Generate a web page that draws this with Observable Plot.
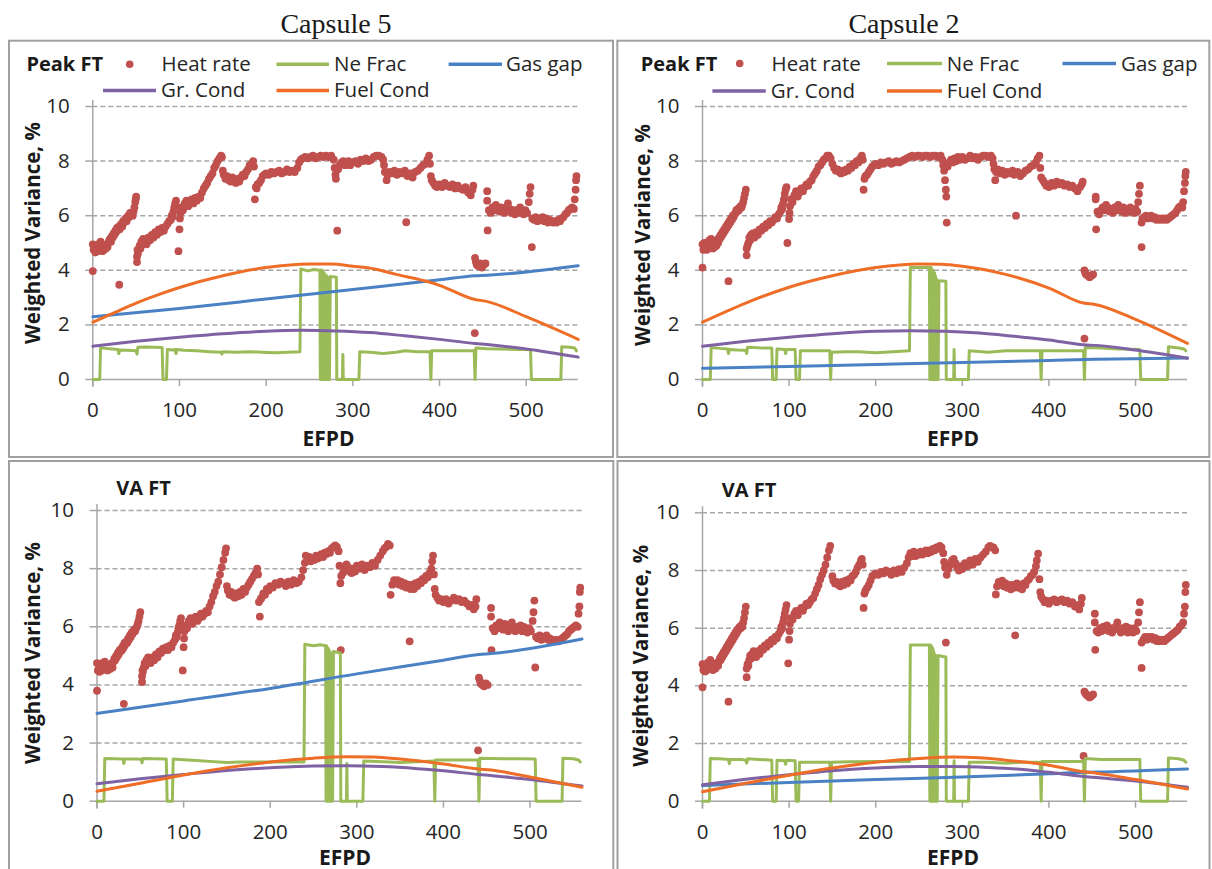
<!DOCTYPE html>
<html><head><meta charset="utf-8">
<script src="https://cdn.jsdelivr.net/npm/d3@7"></script>
<script src="https://cdn.jsdelivr.net/npm/@observablehq/plot@0.6"></script>
<style>
body{margin:0;background:#fff;}
#page{position:relative;width:1212px;height:869px;overflow:hidden;background:#fff;}
.panel{position:absolute;}
#overlay{position:absolute;left:0;top:0;pointer-events:none;}
</style></head><body><div id="page"></div>
<script>
// ---------------- DATA ----------------
const efpdTicks = [0,100,200,300,400,500];
const varianceTicks = [0,2,4,6,8,10];
const capsuleTitles = ["Capsule 5","Capsule 2"];
const panelLabels = ["Peak FT","Peak FT","VA FT","VA FT"];
const seriesNames = ["Heat rate","Ne Frac","Gas gap","Gr. Cond","Fuel Cond"];
const xTitle = "EFPD";
const yTitle = "Weighted Variance, %";

// Capsule 5, Peak FT
const c5PeakHeat = [[0,3.97],[0,4.95],[1,4.75],[2,4.9],[3,4.65],[4,4.8],[5,4.7],[6,4.95],[7,4.75],[8,4.85],[9,5.05],[10,4.8],[11,4.7],[12,4.85],[13,4.75],[14,4.9],[15,4.8],[16,4.95],[17,4.85],[18,5.0],[19,5.1],[20,5.15],[21,5.05],[22,5.25],[23,5.2],[24,5.35],[25,5.3],[26,5.45],[27,5.4],[28,5.55],[29,5.5],[30.5,3.47],[30,5.6],[31,5.5],[32,5.65],[33,5.7],[34,5.6],[35,5.8],[36,5.75],[37,5.85],[38,5.9],[39,5.8],[40,5.95],[41,6.0],[42,5.95],[43,6.1],[44,6.05],[45,6.1],[46,6.0],[47,6.15],[48,6.3],[49,6.5],[49.5,6.6],[50,6.7],[51,4.3],[51,4.5],[51.5,4.75],[52,4.6],[53,4.75],[54,4.9],[55,4.8],[56,5.05],[57,4.95],[58,5.15],[59,5.0],[60,5.1],[62,4.95],[64,5.2],[66,5.1],[68,5.3],[70,5.2],[72,5.4],[74,5.3],[76,5.5],[78,5.4],[80,5.55],[82,5.45],[84,5.6],[86,5.7],[88,5.8],[90,5.85],[91,6.0],[92,5.95],[93,6.15],[94,6.3],[95,6.45],[96,6.55],[98.8,4.7],[100,5.5],[100.5,5.9],[101,6.1],[102,6.3],[104,6.2],[106,6.45],[108,6.55],[110,6.35],[112,6.5],[114,6.6],[116,6.45],[118,6.65],[120,6.55],[122,6.7],[124,6.65],[126,6.85],[128,7.0],[130,7.1],[132,7.2],[134,7.35],[136,7.45],[138,7.55],[140,7.75],[142,7.85],[144,8.0],[146,8.1],[148,8.2],[149,8.15],[150,7.65],[151,7.5],[153,7.35],[155,7.45],[157,7.3],[159,7.25],[161,7.4],[163,7.3],[165,7.2],[167,7.35],[169,7.25],[171,7.4],[173,7.5],[175,7.45],[177,7.6],[179,7.7],[181,7.85],[183,7.9],[185,8.0],[186,7.8],[187,6.6],[188,7.05],[189,7.0],[190,7.15],[192,7.2],[194,7.3],[196,7.45],[198,7.5],[200,7.55],[203,7.5],[206,7.6],[209,7.55],[212,7.6],[215,7.65],[218,7.55],[221,7.6],[224,7.7],[227,7.6],[230,7.65],[233,7.6],[236,7.75],[238,7.95],[240,8.05],[242,8.1],[245,8.15],[248,8.1],[251,8.15],[254,8.2],[257,8.1],[260,8.15],[263,8.2],[266,8.15],[269,8.2],[272,8.15],[275,8.2],[278,8.05],[279,7.75],[280,7.5],[280.5,7.35],[282,5.45],[283,7.7],[285,7.85],[287,7.95],[289,8.0],[291,7.85],[293,7.9],[295,8.0],[297,7.85],[300,7.95],[303,8.0],[306,7.9],[309,8.05],[312,8.0],[315,8.1],[318,8.0],[321,8.05],[324,8.15],[327,8.2],[330,8.2],[333,8.15],[335,8.05],[336,7.85],[337,7.6],[339,7.3],[340,7.5],[342,7.6],[345,7.55],[348,7.65],[351,7.5],[354,7.6],[357,7.55],[360,7.65],[361.6,5.76],[363,7.45],[366,7.55],[369,7.4],[372,7.6],[375,7.65],[378,7.75],[381,7.85],[384,7.9],[386,8.05],[388,8.2],[389,7.9],[390,7.45],[391,7.3],[393,7.2],[395,7.1],[397,7.05],[400,7.15],[403,7.05],[406,7.2],[409,7.1],[412,7.05],[415,7.15],[418,7.0],[421,7.1],[424,7.0],[427,6.95],[430,7.05],[433,6.85],[436,6.75],[438,6.95],[439,7.1],[440.7,1.7],[441,4.45],[442,4.3],[443,4.2],[445,4.15],[447,4.25],[449,4.1],[451,4.2],[453,4.25],[455,6.9],[455,6.55],[455.5,5.46],[457,6.2],[459,6.1],[461,6.3],[463,6.2],[465,6.4],[467,6.25],[469,6.15],[471,6.3],[473,6.2],[475,6.1],[477,6.3],[479,6.45],[481,6.25],[483,6.1],[485,6.2],[487,6.05],[489,6.2],[491,6.1],[493,6.3],[495,6.15],[497,6.05],[499,6.2],[501,6.1],[503,6.5],[504,6.8],[505,7.05],[506.5,4.85],[507,5.9],[509,5.85],[511,5.95],[513,5.8],[515,5.9],[517,5.85],[519,5.95],[521,5.8],[523,5.9],[525,5.75],[527,5.85],[529,5.8],[531,5.75],[533,5.8],[535,5.75],[537,5.85],[539,5.8],[541,5.9],[543,5.95],[545,6.05],[547,6.1],[549,6.2],[551,6.25],[553,6.3],[555,6.25],[556,6.6],[557,6.95],[557.5,7.3],[558,7.45]];
const c5PeakNe = [[0,0],[8,0],[9,1.16],[15,1.14],[22,1.12],[29,1.1],[30,0.95],[31,1.08],[40,1.07],[50,1.05],[51,0.93],[52,1.18],[60,1.19],[70,1.18],[80,1.17],[81,0],[85,0],[86,1.1],[92,1.08],[95,1.1],[96,0.95],[97,1.1],[105,1.07],[120,1.05],[135,1.02],[148,1.0],[149,0.93],[150,1.02],[165,1.0],[180,1.02],[195,1.0],[210,0.98],[225,1.0],[239,1.02],[240,4.05],[248,3.98],[255,4.03],[262,4.0],[262.5,0],[263,4.0],[263.5,0],[264,4.0],[264.5,0],[265,4.0],[265.5,0],[266,3.95],[266.5,0],[267,3.9],[267.5,0],[268,3.85],[268.5,0],[269,3.8],[269.5,0],[270,3.8],[270.5,0],[271,3.75],[271.5,0],[273,0],[274,3.77],[281,3.75],[281.5,0],[288,0],[288.5,0.92],[289,0],[307,0],[308,1.02],[320,1.0],[335,0.95],[350,1.0],[360,1.05],[375,1.02],[389,1.02],[390,0],[391,1.05],[410,1.05],[425,1.05],[440,1.05],[441,0],[442,1.15],[455,1.13],[470,1.12],[490,1.1],[505,1.1],[506,0],[540,0],[541,1.2],[550,1.18],[556,1.15],[558,1.05]];
const c5PeakGas = [[0,2.3],[100,2.6],[200,2.95],[300,3.3],[400,3.65],[441,3.8],[455,3.82],[560,4.17]];
const c5PeakGr = [[0,1.22],[50,1.4],[100,1.55],[150,1.68],[200,1.77],[240,1.8],[280,1.78],[320,1.72],[360,1.6],[400,1.47],[441,1.32],[455,1.28],[500,1.12],[560,0.82]];
const c5PeakFuel = [[0,2.1],[25,2.45],[50,2.8],[75,3.1],[100,3.37],[150,3.8],[200,4.1],[250,4.23],[275,4.23],[300,4.15],[325,4.05],[350,3.85],[388,3.57],[400,3.45],[441,2.93],[453,2.87],[500,2.3],[560,1.47]];

// Capsule 2, Peak FT
const c2PeakHeat = [[0,4.1],[0,4.95],[1,4.75],[2,5.0],[3,4.8],[4,4.9],[5,4.75],[6,5.0],[7,4.85],[8,5.1],[9,4.9],[10,5.15],[11,4.95],[12,4.8],[13,4.95],[14,4.85],[15,5.0],[16,4.9],[17,5.1],[18,5.0],[19,5.2],[20,5.15],[21,5.3],[22,5.25],[23,5.4],[24,5.35],[25,5.5],[26,5.45],[27,5.6],[28,5.55],[29,5.7],[30,3.6],[30,5.65],[31,5.8],[32,5.75],[33,5.9],[34,5.85],[35,6.0],[36,5.95],[37,6.05],[38,6.1],[39,6.2],[40,6.15],[41,6.25],[42,6.2],[43,6.3],[44,6.35],[45,6.3],[46,6.4],[47,6.5],[48,6.65],[49,6.8],[50,6.95],[51,4.55],[51,4.8],[52,4.9],[53,5.0],[54,5.2],[55,5.1],[56,5.3],[57,5.25],[58,5.35],[60,5.2],[62,5.4],[64,5.3],[66,5.5],[68,5.45],[70,5.6],[72,5.55],[74,5.7],[76,5.65],[78,5.8],[80,5.75],[82,5.85],[84,5.95],[86,5.9],[88,6.05],[90,6.15],[91,6.3],[92,6.25],[93,6.45],[94,6.6],[95,6.8],[96,6.95],[97,7.05],[98,5.0],[100,5.88],[100.5,6.1],[101,6.35],[102,6.6],[104,6.5],[106,6.75],[108,6.9],[110,6.7],[112,6.85],[114,7.0],[116,6.9],[118,7.05],[120,7.15],[122,7.1],[124,7.25],[126,7.3],[128,7.45],[130,7.55],[132,7.65],[134,7.8],[136,7.85],[138,7.95],[140,8.05],[142,8.1],[144,8.2],[146,8.2],[148,8.1],[150,7.9],[152,7.75],[154,7.65],[156,7.7],[158,7.6],[160,7.55],[162,7.65],[164,7.6],[166,7.7],[168,7.65],[170,7.8],[172,7.75],[174,7.9],[176,7.85],[178,8.0],[180,7.95],[182,8.1],[184,8.2],[185,8.05],[186,6.95],[187,7.35],[188,7.45],[190,7.5],[192,7.6],[194,7.7],[196,7.8],[198,7.85],[200,7.9],[203,7.85],[206,7.95],[209,7.9],[212,7.95],[215,8.0],[218,7.9],[221,7.95],[224,8.0],[227,7.95],[230,8.0],[233,8.05],[236,8.1],[239,8.15],[242,8.2],[245,8.15],[248,8.2],[251,8.2],[254,8.15],[257,8.2],[260,8.2],[263,8.15],[266,8.2],[269,8.2],[272,8.15],[275,8.2],[277,8.05],[278,7.85],[279,7.65],[280,7.3],[281,6.95],[281.5,6.7],[282,5.75],[283,7.8],[285,7.95],[287,8.05],[289,7.95],[291,8.1],[293,8.0],[295,8.15],[297,8.05],[300,8.15],[303,8.05],[306,8.1],[309,8.2],[312,8.1],[315,8.15],[318,8.05],[321,8.15],[324,8.2],[327,8.2],[330,8.15],[333,8.2],[335,8.1],[336,7.9],[337,7.7],[338,7.3],[339,7.6],[341,7.7],[343,7.55],[346,7.65],[349,7.5],[352,7.6],[355,7.55],[358,7.65],[360,7.5],[362,6.0],[364,7.6],[367,7.45],[370,7.55],[373,7.65],[376,7.7],[379,7.8],[382,7.85],[385,7.95],[387,8.1],[389,8.2],[390,7.75],[391,7.4],[393,7.3],[395,7.2],[397,7.1],[400,7.05],[403,7.2],[406,7.1],[409,7.25],[412,7.15],[415,7.2],[418,7.1],[421,7.15],[424,7.05],[427,7.1],[430,7.0],[433,6.9],[436,7.05],[438,7.15],[439,7.25],[441,1.5],[441,4.0],[442,3.9],[443,3.85],[445,3.8],[447,3.75],[449,3.8],[451,3.85],[454,6.7],[454,6.6],[454.5,5.5],[456,6.15],[458,6.05],[460,6.2],[462,6.3],[464,6.2],[466,6.4],[468,6.3],[470,6.15],[472,6.25],[474,6.1],[476,6.3],[478,6.2],[480,6.4],[482,6.25],[484,6.15],[486,6.3],[488,6.1],[490,6.2],[492,6.15],[494,6.3],[496,6.2],[498,6.1],[500,6.25],[502,6.15],[503,6.5],[504,6.8],[505,7.1],[507,4.85],[507,5.75],[508,5.9],[510,5.95],[512,6.0],[514,5.9],[516,5.95],[518,6.0],[520,5.9],[522,5.95],[524,5.85],[526,5.9],[528,5.85],[530,5.9],[532,5.85],[534,5.9],[536,5.85],[538,5.9],[540,5.95],[542,6.0],[544,6.05],[546,6.1],[548,6.2],[550,6.3],[552,6.35],[554,6.3],[555,6.5],[556,6.9],[557,7.2],[557.5,7.45],[558,7.6]];
const c2PeakNe = [[0,0],[9,0],[10,1.17],[20,1.14],[29,1.12],[30,0.95],[31,1.1],[40,1.08],[50,1.07],[51,0.95],[52,1.18],[65,1.16],[80,1.15],[81,0],[85,0],[86,1.12],[95,1.1],[96,0.95],[97,1.1],[107,1.1],[108,0],[112,0],[113,1.05],[130,1.05],[147,1.05],[148,0],[149,1.0],[165,1.02],[180,1.02],[200,0.98],[220,1.02],[239,1.05],[240,4.1],[250,4.1],[262,4.1],[262.5,0],[263,4.1],[263.5,0],[264,4.1],[264.5,0],[265,4.05],[265.5,0],[266,4.0],[266.5,0],[267,3.95],[267.5,0],[268,3.9],[268.5,0],[269,3.8],[269.5,0],[270,3.7],[270.5,0],[272,0],[273,3.62],[281,3.6],[281.5,0],[290,0],[290.5,1.1],[291,0],[307,0],[308,1.05],[330,1.0],[350,1.05],[370,1.05],[390,1.05],[391,0],[392,1.05],[420,1.05],[440,1.05],[441,0],[442,1.17],[460,1.15],[480,1.12],[505,1.1],[506,0],[537,0],[538,1.2],[550,1.15],[556,1.12],[558,1.05]];
const c2PeakGas = [[0,0.41],[100,0.48],[200,0.55],[300,0.62],[400,0.7],[441,0.73],[455,0.74],[560,0.79]];
const c2PeakGr = [[0,1.22],[50,1.4],[100,1.55],[150,1.68],[200,1.77],[240,1.79],[280,1.77],[320,1.7],[360,1.58],[400,1.45],[440,1.27],[455,1.25],[500,1.08],[560,0.78]];
const c2PeakFuel = [[0,2.1],[50,2.8],[100,3.38],[150,3.8],[200,4.1],[250,4.23],[275,4.22],[300,4.15],[350,3.85],[400,3.35],[440,2.8],[453,2.75],[500,2.2],[560,1.32]];

// Capsule 5, VA FT
const c5VaHeat = [[0,3.8],[0,4.75],[1,4.5],[2,4.7],[3,4.45],[4,4.6],[5,4.5],[6,4.75],[7,4.55],[8,4.7],[9,4.8],[10,4.55],[11,4.65],[12,4.5],[13,4.6],[14,4.7],[15,4.55],[16,4.65],[17,4.75],[18,4.6],[19,4.8],[20,4.9],[21,4.85],[22,5.0],[23,4.95],[24,5.1],[25,5.05],[26,5.2],[27,5.15],[28,5.25],[29,5.2],[30,5.35],[31,3.35],[31,5.3],[32,5.45],[33,5.4],[34,5.5],[35,5.45],[36,5.6],[37,5.55],[38,5.7],[39,5.65],[40,5.8],[41,5.75],[42,5.85],[43,5.9],[44,5.85],[45,5.95],[46,6.0],[47,6.1],[48,6.2],[49,6.35],[50,6.5],[52,4.1],[52,4.3],[52.5,4.5],[53,4.45],[54,4.6],[55,4.75],[56,4.65],[57,4.85],[58,4.8],[59,4.95],[60,4.9],[62,4.75],[64,4.95],[66,4.85],[68,5.05],[70,4.95],[72,5.15],[74,5.1],[76,5.25],[78,5.2],[80,5.3],[82,5.2],[84,5.35],[86,5.3],[88,5.45],[90,5.55],[91,5.7],[92,5.65],[93,5.8],[94,5.95],[95,6.05],[96,6.2],[97,6.3],[99,4.5],[100,5.3],[100.5,5.6],[101,5.85],[102,6.05],[104,5.95],[106,6.2],[108,6.3],[110,6.1],[112,6.25],[114,6.35],[116,6.2],[118,6.3],[120,6.45],[122,6.35],[124,6.45],[126,6.55],[128,6.5],[130,6.7],[132,6.85],[134,7.05],[136,7.2],[138,7.4],[140,7.55],[142,7.8],[144,8.05],[146,8.3],[148,8.55],[149,8.7],[150,7.4],[151,7.25],[153,7.1],[155,7.2],[157,7.05],[159,7.0],[161,7.15],[163,7.05],[165,7.2],[167,7.1],[169,7.3],[171,7.2],[173,7.35],[175,7.45],[177,7.55],[179,7.65],[181,7.75],[183,7.85],[185,8.0],[186,7.8],[187,6.85],[188,6.35],[189,6.95],[190,7.0],[192,7.15],[194,7.1],[196,7.3],[198,7.25],[200,7.4],[203,7.35],[206,7.5],[209,7.45],[212,7.55],[215,7.5],[218,7.4],[221,7.55],[224,7.45],[227,7.6],[230,7.5],[233,7.55],[236,7.7],[238,7.95],[240,8.2],[241,8.45],[243,8.3],[245,8.4],[247,8.25],[249,8.35],[251,8.3],[253,8.45],[255,8.35],[257,8.4],[259,8.5],[261,8.4],[263,8.55],[265,8.5],[267,8.6],[269,8.55],[271,8.7],[273,8.75],[275,8.8],[277,8.75],[279,8.6],[280,8.1],[281,7.5],[281.5,5.2],[282,7.75],[284,7.85],[286,8.0],[288,8.15],[290,8.05],[292,7.9],[294,7.85],[296,8.0],[298,7.9],[300,8.1],[303,8.0],[306,8.15],[309,7.95],[312,8.1],[315,8.05],[318,8.2],[321,8.1],[324,8.3],[327,8.45],[330,8.6],[332,8.7],[334,8.75],[336,8.85],[338,8.8],[339,7.1],[341,7.45],[343,7.6],[345,7.5],[347,7.6],[349,7.45],[351,7.55],[353,7.4],[355,7.5],[357,7.35],[359,7.45],[361,5.5],[362,7.3],[364,7.45],[366,7.3],[368,7.5],[370,7.4],[372,7.55],[374,7.5],[376,7.65],[378,7.6],[380,7.75],[382,7.7],[384,7.85],[386,8.0],[387,8.25],[388,8.45],[389,7.8],[390,7.3],[391,7.1],[393,7.0],[395,6.9],[397,6.95],[400,6.85],[403,6.95],[406,6.8],[409,6.9],[412,7.0],[415,6.9],[418,6.95],[421,6.85],[424,6.9],[427,6.8],[430,6.7],[433,6.75],[435,6.6],[437,6.7],[438,6.95],[440,1.75],[441,4.25],[442,4.15],[443,4.05],[445,4.0],[447,3.95],[449,4.05],[451,4.0],[455,6.65],[455,6.35],[455.5,5.2],[457,5.95],[459,5.85],[461,6.05],[463,5.95],[465,6.15],[467,6.0],[469,5.9],[471,6.1],[473,5.95],[475,5.85],[477,6.05],[479,6.15],[481,5.95],[483,5.85],[485,6.0],[487,5.9],[489,6.05],[491,5.85],[493,6.0],[495,5.9],[497,5.8],[499,5.95],[501,5.85],[503,6.2],[504,6.5],[505,6.9],[506,4.6],[507,5.65],[509,5.6],[511,5.7],[513,5.55],[515,5.65],[517,5.6],[519,5.7],[521,5.55],[523,5.6],[525,5.5],[527,5.55],[529,5.5],[531,5.55],[533,5.5],[535,5.55],[537,5.6],[539,5.65],[541,5.7],[543,5.75],[545,5.85],[547,5.9],[549,5.95],[551,6.0],[553,6.05],[555,6.0],[556,6.45],[557,6.7],[557.5,7.2],[558,7.35]];
const c5VaNe = [[0,0],[8,0],[9,1.47],[20,1.46],[30,1.45],[31,1.3],[32,1.45],[45,1.45],[51,1.44],[52,1.32],[53,1.47],[65,1.46],[80,1.45],[81,0],[87,0],[88,1.45],[100,1.43],[115,1.4],[130,1.37],[150,1.33],[165,1.35],[200,1.35],[239,1.35],[240,5.4],[250,5.35],[258,5.38],[264,5.35],[264.5,0],[265,5.35],[265.5,0],[266,5.3],[266.5,0],[267,5.25],[267.5,0],[268,5.2],[268.5,0],[269,5.15],[269.5,0],[270,5.1],[270.5,0],[272,0],[273,5.15],[281,5.1],[281.5,0],[288,0],[288.5,1.3],[289,0],[307,0],[308,1.38],[330,1.36],[350,1.33],[370,1.36],[389,1.38],[390,0],[391,1.42],[420,1.42],[440,1.42],[441,0],[442,1.48],[470,1.46],[490,1.46],[506,1.45],[507,0],[537,0],[538,1.48],[550,1.46],[556,1.42],[558,1.35]];
const c5VaGas = [[0,3.02],[100,3.45],[200,3.88],[300,4.38],[400,4.85],[441,5.05],[455,5.08],[560,5.58]];
const c5VaGr = [[0,0.6],[50,0.77],[100,0.92],[150,1.06],[200,1.15],[250,1.21],[290,1.22],[330,1.19],[370,1.12],[400,1.05],[440,0.92],[455,0.88],[500,0.75],[560,0.52]];
const c5VaFuel = [[0,0.34],[50,0.62],[100,0.9],[150,1.15],[200,1.35],[250,1.48],[290,1.53],[320,1.52],[350,1.45],[400,1.28],[440,1.11],[455,1.07],[500,0.83],[560,0.48]];

// Capsule 2, VA FT
const c2VaHeat = [[0,3.95],[0,4.75],[1,4.55],[2,4.7],[3,4.5],[4,4.65],[5,4.55],[6,4.8],[7,4.6],[8,4.75],[9,4.9],[10,4.6],[11,4.7],[12,4.55],[13,4.65],[14,4.75],[15,4.6],[16,4.7],[17,4.8],[18,4.7],[19,4.85],[20,4.95],[21,4.9],[22,5.05],[23,5.0],[24,5.15],[25,5.1],[26,5.25],[27,5.2],[28,5.35],[29,5.3],[30,3.45],[30,5.45],[31,5.4],[32,5.55],[33,5.5],[34,5.65],[35,5.6],[36,5.75],[37,5.7],[38,5.85],[39,5.8],[40,5.95],[41,5.9],[42,6.0],[43,6.05],[44,6.0],[45,6.1],[46,6.05],[47,6.2],[48,6.35],[49,6.55],[50,6.75],[51,4.3],[51,4.6],[52,4.75],[53,4.7],[54,4.9],[55,5.05],[56,4.95],[57,5.1],[58,5.05],[59,5.2],[60,5.1],[62,5.0],[64,5.2],[66,5.1],[68,5.3],[70,5.25],[72,5.4],[74,5.35],[76,5.5],[78,5.45],[80,5.6],[82,5.55],[84,5.7],[86,5.65],[88,5.8],[90,5.9],[91,6.05],[92,6.0],[93,6.2],[94,6.35],[95,6.5],[96,6.65],[97,6.8],[99,4.78],[100,5.6],[100.5,5.9],[101,6.15],[102,6.35],[104,6.3],[106,6.5],[108,6.6],[110,6.45],[112,6.6],[114,6.7],[116,6.6],[118,6.75],[120,6.85],[122,6.8],[124,6.9],[126,7.0],[128,7.05],[130,7.2],[132,7.35],[134,7.5],[136,7.7],[138,7.85],[140,8.0],[142,8.2],[144,8.45],[146,8.7],[147.5,8.85],[150,7.8],[151,7.65],[153,7.55],[155,7.6],[157,7.5],[159,7.45],[161,7.6],[163,7.5],[165,7.65],[167,7.55],[169,7.7],[171,7.65],[173,7.8],[175,7.85],[177,7.95],[179,8.1],[181,8.2],[183,8.35],[184,8.4],[185,8.2],[186,6.7],[187,7.2],[188,7.3],[190,7.4],[192,7.5],[194,7.65],[196,7.8],[198,7.85],[200,7.9],[203,7.85],[206,7.95],[209,7.9],[212,8.0],[215,7.95],[218,7.85],[221,8.0],[224,7.9],[227,8.05],[230,7.95],[233,8.1],[236,8.25],[238,8.45],[240,8.6],[242,8.5],[244,8.65],[246,8.5],[248,8.6],[250,8.55],[252,8.65],[254,8.55],[256,8.6],[258,8.7],[260,8.6],[262,8.7],[264,8.65],[266,8.75],[268,8.7],[270,8.8],[272,8.75],[274,8.85],[276,8.8],[278,8.6],[279,8.3],[280,8.1],[281,5.5],[282,7.85],[284,8.05],[286,8.2],[288,8.35],[290,8.4],[292,8.25],[294,8.1],[296,8.0],[298,8.15],[300,8.05],[303,8.25],[306,8.15],[309,8.35],[312,8.2],[315,8.4],[318,8.3],[321,8.45],[324,8.55],[327,8.65],[330,8.8],[332,8.85],[334,8.8],[336,8.8],[338,8.7],[338.7,7.17],[340,7.45],[342,7.6],[344,7.5],[346,7.65],[348,7.45],[350,7.55],[352,7.4],[354,7.5],[356,7.35],[358,7.5],[360,7.4],[361,5.75],[363,7.55],[365,7.4],[367,7.5],[369,7.35],[371,7.55],[373,7.5],[375,7.65],[377,7.7],[379,7.8],[381,7.85],[383,7.95],[385,8.15],[386,8.35],[387.5,8.58],[389,7.7],[390,7.25],[391,7.1],[393,7.0],[395,6.9],[397,6.95],[400,6.85],[403,6.95],[406,7.0],[409,6.9],[412,6.95],[415,7.0],[418,6.9],[421,6.95],[424,6.85],[427,6.9],[430,6.75],[433,6.8],[435,6.65],[437,6.85],[438,7.05],[440,1.57],[441,3.8],[442,3.75],[443,3.7],[445,3.65],[447,3.6],[449,3.65],[451,3.7],[453,6.5],[453,6.2],[453.5,5.25],[455,5.9],[457,5.85],[459,6.0],[461,5.9],[463,6.05],[465,5.95],[467,6.1],[469,5.9],[471,6.0],[473,5.85],[475,5.95],[477,6.05],[479,6.2],[481,5.95],[483,5.85],[485,6.0],[487,5.9],[489,6.05],[491,5.85],[493,6.0],[495,5.9],[497,5.85],[499,6.0],[501,5.9],[503,6.2],[504,6.55],[505,6.9],[507,4.62],[507,5.5],[509,5.6],[511,5.7],[513,5.6],[515,5.7],[517,5.65],[519,5.7],[521,5.6],[523,5.65],[525,5.55],[527,5.6],[529,5.55],[531,5.6],[533,5.55],[535,5.6],[537,5.65],[539,5.7],[541,5.75],[543,5.8],[545,5.85],[547,5.9],[549,5.95],[551,6.05],[553,6.1],[555,6.2],[556,6.5],[557,6.75],[557.5,7.25],[558,7.5]];
const c2VaNe = [[0,0],[8,0],[9,1.48],[20,1.47],[30,1.45],[31,1.3],[32,1.45],[45,1.45],[50,1.42],[51,1.32],[52,1.47],[65,1.45],[80,1.42],[81,0],[85,0],[86,1.42],[95,1.4],[96,1.28],[97,1.42],[107,1.4],[108,0],[111,0],[112,1.35],[130,1.35],[147,1.35],[148,0],[149,1.35],[170,1.37],[200,1.38],[220,1.38],[239,1.38],[240,5.42],[250,5.42],[262,5.42],[262.5,0],[263,5.42],[263.5,0],[264,5.4],[264.5,0],[265,5.35],[265.5,0],[266,5.3],[266.5,0],[267,5.2],[267.5,0],[268,5.1],[268.5,0],[269,5.05],[269.5,0],[271,0],[272,5.05],[281,5.0],[281.5,0],[290,0],[290.5,1.4],[291,0],[307,0],[308,1.35],[330,1.35],[350,1.32],[370,1.35],[390,1.35],[391,0],[392,1.38],[420,1.38],[440,1.38],[441,0],[442,1.48],[460,1.45],[480,1.45],[505,1.45],[506,0],[537,0],[538,1.5],[550,1.47],[556,1.42],[558,1.35]];
const c2VaGas = [[0,0.54],[100,0.65],[200,0.75],[300,0.84],[400,0.95],[441,1.0],[455,1.01],[560,1.12]];
const c2VaGr = [[0,0.57],[50,0.76],[100,0.92],[150,1.06],[200,1.15],[250,1.2],[290,1.2],[330,1.17],[370,1.1],[400,1.0],[440,0.86],[455,0.82],[500,0.7],[560,0.48]];
const c2VaFuel = [[0,0.33],[50,0.62],[100,0.9],[150,1.15],[200,1.35],[250,1.48],[290,1.53],[320,1.51],[350,1.42],[400,1.25],[440,1.02],[455,0.97],[500,0.75],[560,0.42]];

// ---------------- STYLE / LAYOUT ----------------
const C = {heat:"#C0504D", ne:"#9BBB59", gas:"#4A81C4", gr:"#7F62A3", fuel:"#EE6E27", grid:"#A6A6A6", text:"#262626", box:"#A0A0A0"};
const FONT = "'Open Sans', sans-serif";

const panels = [
  {L:10, T:42, W:600, H:414, x0:92.3, x1:577.7, y10:106, y0:379, data:[c5PeakHeat,c5PeakNe,c5PeakGas,c5PeakGr,c5PeakFuel]},
  {L:619, T:42, W:590, H:414, x0:702, x1:1187, y10:106, y0:379, data:[c2PeakHeat,c2PeakNe,c2PeakGas,c2PeakGr,c2PeakFuel]},
  {L:10, T:463, W:600, H:406, x0:96.5, x1:581.5, y10:510, y0:800.7, data:[c5VaHeat,c5VaNe,c5VaGas,c5VaGr,c5VaFuel]},
  {L:619, T:463, W:590, H:406, x0:702, x1:1187, y10:512.3, y0:800.7, data:[c2VaHeat,c2VaNe,c2VaGas,c2VaGr,c2VaFuel]}
];

const page = document.getElementById("page");
const X = d => d[0], Y = d => d[1];

panels.forEach(p => {
  const ppu = (p.y0 - p.y10) / 10;
  const [heat, ne, gas, gr, fuel] = p.data;
  const chart = Plot.plot({
    width: p.W, height: p.H,
    marginLeft: p.x0 - p.L, marginRight: p.L + p.W - p.x1,
    marginTop: p.y10 - p.T, marginBottom: p.T + p.H - p.y0,
    x: {domain: [0, 560]},
    y: {domain: [0, 10]},
    style: {fontFamily: FONT, fontSize: "20.5px", color: C.text, background: "transparent", overflow: "visible"},
    marks: [
      Plot.ruleY(varianceTicks.filter(v => v > 0), {stroke: C.grid, strokeWidth: 1.5, strokeDasharray: "5,3"}),
      Plot.ruleY([0], {stroke: C.grid, strokeWidth: 1.5}),
      Plot.ruleX([{x: 0, a: -8 / ppu, b: 10 + 6 / ppu}], {x: "x", y1: "a", y2: "b", stroke: C.grid, strokeWidth: 1.5}),
      Plot.axisX({ticks: efpdTicks, tickSize: 7, tickPadding: 16, stroke: C.grid, strokeWidth: 1.5, label: null, fill: C.text, fontSize: 20.5}),
      Plot.axisY({ticks: varianceTicks, tickSize: 7, tickPadding: 16, stroke: C.grid, strokeWidth: 1.5, label: null, fill: C.text, fontSize: 20.5}),
      Plot.dot(heat, {x: X, y: Y, r: 3.9, fill: C.heat, stroke: null}),
      Plot.line(ne, {x: X, y: Y, stroke: C.ne, strokeWidth: 3, strokeLinejoin: "round"}),
      Plot.line(gas, {x: X, y: Y, stroke: C.gas, strokeWidth: 3, curve: "monotone-x"}),
      Plot.line(gr, {x: X, y: Y, stroke: C.gr, strokeWidth: 3, curve: "monotone-x"}),
      Plot.line(fuel, {x: X, y: Y, stroke: C.fuel, strokeWidth: 3, curve: "monotone-x"})
    ]
  });
  const div = document.createElement("div");
  div.className = "panel";
  div.style.left = p.L + "px"; div.style.top = p.T + "px";
  div.style.width = p.W + "px"; div.style.height = p.H + "px";
  div.appendChild(chart);
  page.appendChild(div);
});

// ---------------- OVERLAY: frames, titles, legends, axis titles ----------------
const svg = d3.select(page).append("svg").attr("id", "overlay")
  .attr("width", 1212).attr("height", 869).attr("font-family", FONT);

[[9,40.7,604,416.3],[617.3,40.7,592,416.3],[9,461,604.3,420],[617.5,461,592,420]].forEach(([x,y,w,h]) =>
  svg.append("rect").attr("x",x).attr("y",y).attr("width",w).attr("height",h)
    .attr("fill","none").attr("stroke",C.box).attr("stroke-width",2));

[[336, capsuleTitles[0]], [904, capsuleTitles[1]]].forEach(([x,t]) =>
  svg.append("text").attr("x",x).attr("y",33).attr("text-anchor","middle")
    .attr("font-family","'Liberation Serif','Times New Roman',serif").attr("font-size",28).attr("fill","#1a1a1a").text(t));

// legends for the two Peak FT panels
const legends = [
  {peak:64.7, r1:64.3, r2:90.5, b1:71, b2:97, dot:129.7, heatT:161.6, ne:[276.5,329], neT:334, gas:[448.6,502], gasT:506, gr:[103,156], grT:161, fuel:[276.5,329], fuelT:334},
  {peak:679, r1:63.5, r2:91, b1:70.5, b2:97.5, dot:739.7, heatT:771.6, ne:[887,942], neT:946.8, gas:[1062.5,1116], gasT:1121, gr:[712.4,765.8], grT:770.8, fuel:[887,942], fuelT:946.8}
];
legends.forEach((g, i) => {
  svg.append("text").attr("x",g.peak).attr("y",g.b1).attr("text-anchor","middle")
    .attr("font-weight","bold").attr("font-size",20).attr("fill","#1a1a1a").text(panelLabels[i]);
  svg.append("circle").attr("cx",g.dot).attr("cy",g.r1).attr("r",3.8).attr("fill",C.heat);
  const ln = (xs, y, c) => svg.append("line").attr("x1",xs[0]).attr("x2",xs[1]).attr("y1",y).attr("y2",y)
    .attr("stroke",c).attr("stroke-width",3.5);
  ln(g.ne, g.r1, C.ne); ln(g.gas, g.r1, C.gas); ln(g.gr, g.r2, C.gr); ln(g.fuel, g.r2, C.fuel);
  const tx = (x, y, t) => svg.append("text").attr("x",x).attr("y",y).attr("font-size",20.5).attr("fill",C.text).text(t);
  tx(g.heatT, g.b1, seriesNames[0]); tx(g.neT, g.b1, seriesNames[1]); tx(g.gasT, g.b1, seriesNames[2]);
  tx(g.grT, g.b2, seriesNames[3]); tx(g.fuelT, g.b2, seriesNames[4]);
});

// VA FT labels
[[143.5,495,panelLabels[2]],[749,496.5,panelLabels[3]]].forEach(([x,y,t]) =>
  svg.append("text").attr("x",x).attr("y",y).attr("text-anchor","middle")
    .attr("font-weight","bold").attr("font-size",20).attr("fill","#1a1a1a").text(t));

// axis titles
[[39.5,233],[649.5,235],[39.5,653],[647.5,655.8]].forEach(([x,y]) =>
  svg.append("text").attr("transform",`translate(${x},${y}) rotate(-90)`).attr("text-anchor","middle")
    .attr("font-weight","bold").attr("font-size",20.5).attr("fill","#1a1a1a").text(yTitle));
[[328.5,445.7],[953,445.7],[345,864.5],[953,864.5]].forEach(([x,y]) =>
  svg.append("text").attr("x",x).attr("y",y).attr("text-anchor","middle")
    .attr("font-weight","bold").attr("font-size",21).attr("fill","#1a1a1a").text(xTitle));
</script></body></html>
